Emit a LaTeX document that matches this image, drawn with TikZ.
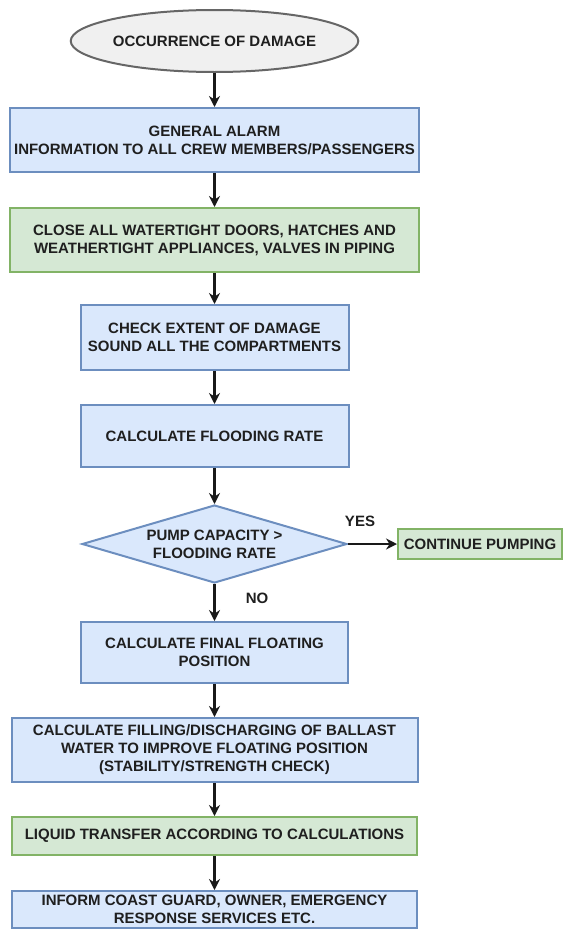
\documentclass[tikz,border=0pt]{standalone}
\usepackage{fontspec}
\setsansfont{Liberation Sans}
\usetikzlibrary{arrows.meta,shapes.geometric}

\definecolor{boxblue}{HTML}{DAE8FC}
\definecolor{lineblue}{HTML}{6C8EBF}
\definecolor{boxgreen}{HTML}{D5E8D4}
\definecolor{linegreen}{HTML}{82B366}
\definecolor{boxgrey}{HTML}{F0F0F0}
\definecolor{linegrey}{HTML}{666666}

\begin{document}
\begin{tikzpicture}[
  x=1pt, y=-1pt,
  font=\sffamily\bfseries\fontsize{15}{18}\selectfont,
  text=black!88,
  event/.style={draw=linegrey, fill=boxgrey, ellipse, line width=2pt, minimum width=235pt, minimum height=62pt, inner sep=0pt},
  proc/.style={draw=lineblue, fill=boxblue, line width=2pt, align=center, inner sep=2pt},
  action/.style={draw=linegreen, fill=boxgreen, line width=2pt, align=center, inner sep=2pt},
  decision/.style={draw=lineblue, fill=boxblue, diamond, aspect=3.4, line width=2pt, align=center, inner sep=0pt, minimum width=265pt, minimum height=78pt},
  lbl/.style={inner sep=0pt},
  arrow/.style={-{Stealth[length=11pt, width=11pt]}, line width=2.6pt, draw=black!90}
]
\useasboundingbox (0,0) rectangle (568,929);

\node[event] (dmg) at (214.5,41) {OCCURRENCE OF DAMAGE};
\node[proc, minimum width=409pt, minimum height=64pt] (alarm) at (214.5,140)
  {GENERAL ALARM\\INFORMATION TO ALL CREW MEMBERS/PASSENGERS};
\node[action, minimum width=409pt, minimum height=64pt] (close) at (214.5,240)
  {CLOSE ALL WATERTIGHT DOORS, HATCHES AND\\WEATHERTIGHT APPLIANCES, VALVES IN PIPING};
\node[proc, minimum width=268pt, minimum height=65pt] (extent) at (214.5,337.5)
  {CHECK EXTENT OF DAMAGE\\SOUND ALL THE COMPARTMENTS};
\node[proc, minimum width=268pt, minimum height=62pt] (rate) at (214.5,436)
  {CALCULATE FLOODING RATE};
\node[decision] (pump) at (214.5,544) {PUMP CAPACITY >\\FLOODING RATE};
\node[action, minimum width=164pt, minimum height=30pt] (cont) at (480,544)
  {CONTINUE PUMPING};
\node[proc, minimum width=267pt, minimum height=61pt] (final) at (214.5,652.5)
  {CALCULATE FINAL FLOATING\\POSITION};
\node[proc, minimum width=406pt, minimum height=64pt] (ballast) at (214.5,750)
  {CALCULATE FILLING/DISCHARGING OF BALLAST\\WATER TO IMPROVE FLOATING POSITION\\(STABILITY/STRENGTH CHECK)};
\node[action, minimum width=405pt, minimum height=38pt] (liquid) at (214.5,836)
  {LIQUID TRANSFER ACCORDING TO CALCULATIONS};
\node[proc, minimum width=405pt, minimum height=37pt] (inform) at (214.5,909.5)
  {INFORM COAST GUARD, OWNER, EMERGENCY\\RESPONSE SERVICES ETC.};

\node[lbl] (yes) at (360,521) {YES};
\node[lbl] (no) at (257,598) {NO};

\draw[arrow] (dmg.south) -- (alarm.north);
\draw[arrow] (alarm.south) -- (close.north);
\draw[arrow] (close.south) -- (extent.north);
\draw[arrow] (extent.south) -- (rate.north);
\draw[arrow] (rate.south) -- (pump.north);
\draw[arrow] (pump.east) -- (cont.west);
\draw[arrow] (pump.south) -- (final.north);
\draw[arrow] (final.south) -- (ballast.north);
\draw[arrow] (ballast.south) -- (liquid.north);
\draw[arrow] (liquid.south) -- (inform.north);

\end{tikzpicture}
\end{document}
